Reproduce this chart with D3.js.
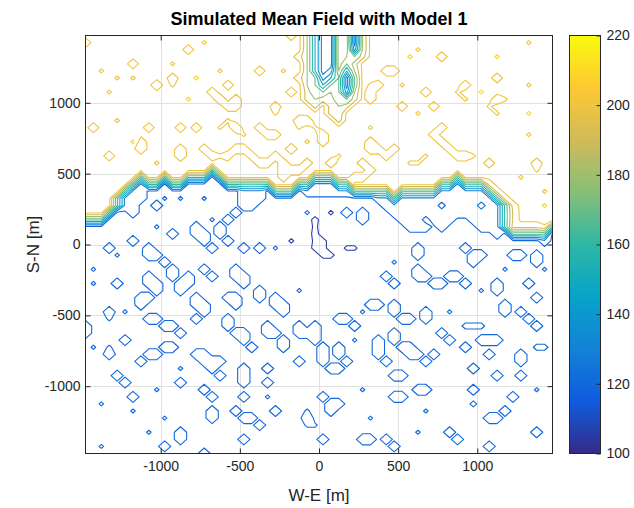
<!DOCTYPE html>
<html>
<head>
<meta charset="utf-8">
<script src="https://cdn.jsdelivr.net/npm/d3@7"></script>
<style>
  body { margin: 0; background: #fff; }
  text { font-family: "Liberation Sans", Arial, Helvetica, sans-serif; }
</style>
</head>
<body>
<script>
'use strict';

// axis ticks and contour levels
const xTicks = [-1000, -500, 0, 500, 1000];
const yTicks = [-1000, -500, 0, 500, 1000];
const colorTicks = [100, 120, 140, 160, 180, 200, 220];
const contourLevels = [105, 120, 130, 140, 150, 160, 170, 180, 190, 200, 210];

// parula colour stops, 100 .. 220
const parulaStops = ['#352a87', '#0f5cdd', '#1481d6', '#06a4ca', '#2eb7a4',
                     '#87bf77', '#d1bb59', '#fec832', '#f9fb0e'];

// the field is a 60 x 60 grid, 50 m spacing, centres -1475 .. 1475, row 0 = north
const nCols = 60;
const nRows = 60;

// field value for each cell code
const codeValue = {
  '.': 118, ',': 114, 'a': 120.8, 'A': 121.5, 'b': 127, 'B': 129, 'c': 133,
  'p': 99, 'P': 95,
  'm': 162,
  'o': 202.5, 'd': 194, 'D': 191, 'e': 199, 'y': 213,
  'L': 125, 'K': 135, 'h': 150, 'j': 170, 'g': 180, 'k': 185
};

// row of the steep transition band in each column
const bandRow = [26, 26, 26, 25, 23, 22, 21, 20, 21, 21,
                 20, 21, 21, 20, 20, 20, 19, 20, 21, 21,
                 21, 21, 21, 21, 22, 22, 22, 21, 21, 20,
                 20, 20, 21, 21, 22, 22, 22, 22, 22, 23,
                 22, 22, 22, 22, 22, 21, 21, 20, 21, 21,
                 21, 22, 23, 24, 28, 28, 28, 28, 28, 27];

// extra band cells where the band turns steeply
const bandExtra = [[24, 4, 'm'], [25, 53, 'm'], [26, 53, 'm'], [27, 53, 'm']];

// slightly raised ground hanging under the band: [column, last row]
const shelf = [[5, 24], [6, 25], [7, 23], [20, 23], [21, 24], [22, 23],
  [28, 22], [29, 22], [30, 22], [31, 22], [32, 22], [33, 22], [37, 23], [38, 24],
  [39, 25], [40, 26], [41, 27], [42, 27], [43, 27], [44, 26], [45, 27], [46, 26],
  [47, 25], [48, 25], [49, 26], [50, 27], [51, 27], [52, 28]];

// low channel coming in from the north edge, columns 28..35 ('*' = unchanged)
const channelRows = [
  'ghLLkkLg', 'ghLLkkLg', 'ghLLkkKg', 'ghLLkgjk', 'ghLLkjko', 'ghLKghgo',
  'gjKhjLjo', 'gjhjjLjo', 'kjjgjKgo', 'kgkkjjko', '*k*kgk**', '***kg***', '****k***'
];

// dips and peaks in the northern (high) part: [row, col, code]
const upperCells = [
  [1, 0, 'd'], [5, 2, 'e'], [6, 4, 'e'], [8, 3, 'e'], [4, 6, 'd'], [6, 6, 'e'], [7, 9, 'D'],
  [6, 11, 'd'], [7, 11, 'e'], [4, 11, 'e'], [2, 13, 'd'], [1, 15, 'e'], [9, 13, 'y'], [6, 14, 'y'],
  [8, 16, 'd'], [9, 17, 'D'], [10, 18, 'd'], [9, 19, 'd'], [10, 19, 'd'], [7, 18, 'd'], [5, 17, 'e'],
  [5, 22, 'd'], [5, 25, 'e'], [3, 27, 'd'], [6, 27, 'd'], [8, 26, 'd'], [0, 26, 'd'], [10, 24, 'd'],
  [11, 24, 'e'], [12, 27, 'D'], [12, 28, 'd'], [13, 27, 'e'], [13, 1, 'd'], [12, 4, 'e'], [13, 8, 'd'],
  [13, 12, 'd'], [13, 14, 'd'], [13, 17, 'e'], [12, 18, 'e'], [13, 19, 'D'], [14, 20, 'e'],
  [13, 22, 'd'], [14, 23, 'd'], [14, 24, 'd'], [16, 26, 'D'], [15, 28, 'e'], [15, 7, 'd'], [16, 7, 'D'],
  [17, 3, 'd'], [15, 6, 'y'], [16, 12, 'd'], [17, 12, 'D'], [16, 15, 'd'], [17, 16, 'd'], [17, 17, 'e'],
  [17, 18, 'd'], [16, 19, 'd'], [16, 20, 'd'], [17, 21, 'd'], [18, 9, 'e'], [17, 24, 'd'], [18, 22, 'd'],
  [18, 23, 'd'], [18, 25, 'd'], [19, 26, 'd'], [19, 27, 'd'], [18, 28, 'd'], [19, 25, 'd'], [20, 25, 'd'],
  [5, 38, 'd'], [5, 39, 'd'], [7, 37, 'd'], [7, 40, 'e'], [7, 36, 'e'], [8, 36, 'd'], [9, 36, 'd'],
  [2, 42, 'e'], [3, 45, 'd'], [8, 43, 'd'], [7, 48, 'd'], [6, 52, 'd'], [9, 52, 'd'], [9, 53, 'e'],
  [11, 52, 'e'], [1, 56, 'e'], [7, 56, 'e'], [14, 56, 'e'], [18, 57, 'd'], [19, 57, 'e'],
  [3, 52, 'y'], [8, 50, 'y'], [11, 56, 'y'], [3, 41, 'y'], [10, 40, 'd'], [11, 42, 'e'], [10, 44, 'd'],
  [9, 48, 'e'], [10, 51, 'e'], [13, 45, 'd'], [14, 44, 'd'], [15, 45, 'd'], [16, 46, 'd'], [17, 47, 'd'],
  [15, 36, 'd'], [16, 36, 'D'], [16, 37, 'd'], [17, 38, 'd'], [16, 39, 'd'], [18, 35, 'd'], [19, 36, 'd'],
  [18, 31, 'd'], [14, 30, 'd'], [15, 30, 'd'], [13, 36, 'e'], [13, 29, 'e'], [17, 43, 'e'], [17, 48, 'd'],
  [17, 49, 'e'], [18, 51, 'd'], [17, 32, 'e'], [20, 34, 'd'], [20, 35, 'd'], [18, 41, 'e'], [18, 42, 'e'],
  [8, 47, 'e'], [20, 55, 'e'], [22, 58, 'e'], [24, 58, 'y'],
  [21, 51, 'd'], [22, 52, 'd'], [23, 53, 'd'], [24, 54, 'd'], [25, 54, 'D'], [26, 54, 'D'], [27, 54, 'd'],
  [27, 55, 'd'], [27, 56, 'd'], [27, 57, 'd'], [27, 58, 'e']
];

// bumps in the southern (low) part: [row, col, code]
const lowerCells = [
  [23, 10, 'a'], [23, 12, 'a'], [23, 15, 'a'], [24, 9, 'b'], [26, 16, 'a'], [28, 11, 'b'], [29, 6, 'b'],
  [30, 3, 'b'], [31, 4, 'a'], [27, 9, 'a'], [33, 1, 'a'],
  [24, 20, 'b'], [25, 19, 'b'], [26, 18, 'b'], [27, 17, 'b'], [28, 17, 'b'], [29, 18, 'b'],
  [27, 14, 'b'], [28, 14, 'b'], [28, 15, 'b'], [29, 15, 'b'], [30, 16, 'b'],
  [30, 20, 'b'], [30, 22, 'b'], [30, 24, 'a'], [30, 8, 'b'], [31, 8, 'B'], [31, 9, 'b'], [32, 10, 'b'],
  [25, 33, 'b'], [25, 35, 'b'], [26, 35, 'b'], [30, 42, 'b'], [31, 42, 'b'], [30, 48, 'b'], [31, 49, 'b'],
  [32, 49, 'b'], [31, 50, 'b'], [31, 54, 'b'], [31, 55, 'b'], [31, 57, 'b'], [32, 57, 'b'], [29, 58, 'b'],
  [32, 39, 'a'], [25, 28, 'a'], [26, 43, ','], [24, 45, ','], [24, 50, 'c'],
  [35, 4, 'b'], [34, 8, 'b'], [35, 8, 'b'], [35, 9, 'b'], [36, 9, 'b'], [37, 8, 'b'], [37, 7, 'b'], [38, 7, 'b'],
  [33, 11, 'b'], [34, 11, 'b'], [35, 12, 'b'], [36, 12, 'b'], [35, 13, 'b'], [34, 13, 'b'],
  [37, 14, 'b'], [38, 14, 'b'], [38, 15, 'b'], [39, 15, 'b'], [40, 14, 'b'], [33, 15, 'b'], [34, 16, 'b'],
  [37, 18, 'b'], [37, 19, 'b'], [38, 19, 'b'], [33, 19, 'b'], [34, 19, 'b'], [34, 20, 'b'], [35, 20, 'b'],
  [36, 22, 'b'], [37, 22, 'b'], [37, 24, 'b'], [38, 24, 'b'], [38, 25, 'b'], [39, 25, 'b'], [36, 27, 'a'],
  [39, 3, 'b'], [40, 3, 'a'], [39, 5, 'a'], [40, 8, 'b'], [40, 9, 'b'], [41, 10, 'b'], [41, 11, 'b'], [42, 12, 'b'],
  [43, 5, 'b'], [44, 3, 'a'], [45, 3, 'b'], [46, 7, 'b'], [45, 8, 'b'], [45, 9, 'b'], [44, 10, 'b'], [44, 11, 'b'],
  [45, 14, 'b'], [45, 15, 'b'], [46, 15, 'b'], [46, 16, 'b'], [46, 17, 'b'], [47, 16, 'b'], [48, 17, 'b'],
  [47, 12, 'a'], [40, 18, 'b'], [41, 18, 'b'], [42, 19, 'b'], [42, 20, 'b'], [43, 20, 'b'], [44, 21, 'b'],
  [41, 23, 'b'], [42, 23, 'b'], [42, 24, 'b'], [43, 25, 'b'], [44, 25, 'b'], [41, 27, 'b'], [42, 27, 'b'],
  [42, 28, 'b'], [47, 20, 'b'], [48, 20, 'b'], [49, 20, 'b'], [49, 23, 'b'], [46, 27, 'b'], [47, 23, 'b'],
  [48, 4, 'b'], [49, 5, 'b'], [51, 6, 'b'], [50, 9, 'a'], [49, 12, 'b'], [50, 15, 'b'], [51, 16, 'b'],
  [51, 20, 'b'], [51, 23, 'a'], [53, 6, 'a'], [54, 10, 'a'], [53, 16, 'b'], [54, 16, 'b'], [53, 19, 'b'],
  [54, 20, 'b'], [54, 21, 'b'], [55, 22, 'b'], [53, 24, 'b'], [54, 28, 'b'], [55, 28, 'a'], [56, 12, 'b'],
  [57, 12, 'b'], [58, 10, 'b'], [59, 15, 'b'], [57, 20, 'b'], [52, 2, 'a'], [58, 2, 'a'], [56, 8, 'a'],
  [41, 0, 'b'], [42, 0, 'b'], [35, 1, 'a'], [44, 1, 'a'],
  [33, 42, 'b'], [34, 42, 'b'], [34, 43, 'b'], [35, 44, 'b'], [35, 45, 'b'], [34, 46, 'b'], [34, 47, 'b'],
  [35, 48, 'b'], [34, 38, 'b'], [35, 39, 'b'], [38, 36, 'b'], [38, 37, 'b'], [39, 35, 'a'],
  [38, 39, 'b'], [39, 39, 'b'], [40, 40, 'b'], [40, 41, 'b'], [39, 43, 'b'], [40, 43, 'b'],
  [40, 32, 'b'], [40, 33, 'b'], [41, 34, 'b'], [41, 29, 'b'], [42, 29, 'b'], [43, 29, 'b'], [44, 30, 'b'],
  [45, 30, 'b'], [46, 30, 'b'], [44, 32, 'b'], [45, 32, 'b'], [46, 33, 'b'], [47, 32, 'b'], [47, 31, 'b'],
  [43, 34, 'a'], [43, 37, 'b'], [44, 37, 'b'], [45, 37, 'b'], [46, 38, 'b'], [42, 39, 'b'], [43, 39, 'b'],
  [44, 40, 'b'], [44, 41, 'b'], [45, 41, 'b'], [45, 42, 'b'], [46, 43, 'b'], [45, 44, 'b'], [42, 45, 'b'],
  [43, 46, 'b'], [39, 46, 'a'], [41, 48, 'A'], [41, 49, 'A'], [41, 50, 'A'], [43, 50, 'b'], [43, 51, 'b'],
  [43, 52, 'b'], [45, 51, 'b'], [44, 48, 'b'], [38, 53, 'b'], [39, 53, 'b'], [39, 55, 'b'], [40, 56, 'b'],
  [41, 57, 'b'], [36, 50, 'a'], [35, 52, 'b'], [36, 52, 'b'], [35, 56, 'b'], [37, 57, 'b'], [44, 57, 'A'],
  [44, 58, 'A'], [45, 55, 'b'], [46, 55, 'b'], [47, 49, 'b'], [48, 52, 'b'], [48, 55, 'b'], [50, 57, 'a'],
  [48, 39, 'b'], [48, 40, 'b'], [50, 42, 'b'], [50, 43, 'b'], [51, 39, 'b'], [51, 40, 'b'], [51, 30, 'b'],
  [52, 31, 'b'], [52, 32, 'b'], [53, 31, 'b'], [50, 35, 'a'], [50, 49, 'b'], [52, 49, 'A'], [51, 54, 'b'],
  [54, 51, 'b'], [54, 52, 'b'], [53, 53, 'b'], [56, 57, 'b'], [56, 46, 'b'], [57, 47, 'b'], [57, 35, 'b'],
  [57, 36, 'b'], [57, 38, 'b'], [58, 39, 'b'], [57, 30, 'b'], [54, 36, 'a'], [53, 43, 'a'], [56, 42, 'a'],
  [58, 51, 'b'], [55, 29, 'a'], [53, 28, 'a'], [33, 53, 'a'], [33, 58, 'a']
];

// the deepest spot, south of the centre
const purpleCells = [
  [25, 31, 'p'], [26, 29, 'P'], [27, 29, 'p'], [28, 29, 'P'], [29, 29, 'p'], [29, 30, 'P'], [30, 29, 'P'],
  [30, 30, 'P'], [31, 30, 'P'], [31, 31, 'P'], [30, 33, 'p'], [30, 34, 'p'], [29, 26, 'p']
];

// build the grid
const values = new Array(nCols * nRows);
function setCell(r, c, code) { values[r * nCols + c] = codeValue[code]; }

for (let r = 0; r < nRows; r++) {
  for (let c = 0; c < nCols; c++) {
    let b = bandRow[c];
    setCell(r, c, r < b ? 'o' : (r === b ? 'm' : '.'));
  }
}
shelf.forEach(([c, last]) => {
  for (let r = bandRow[c] + 1; r <= last; r++) setCell(r, c, 'b');
});
bandExtra.forEach(([r, c, code]) => setCell(r, c, code));
channelRows.forEach((row, r) => {
  row.split('').forEach((code, i) => { if (code !== '*') setCell(r, 28 + i, code); });
});
[upperCells, lowerCells, purpleCells].forEach(list => {
  list.forEach(([r, c, code]) => setCell(r, c, code));
});

// ----- drawing -----
const width = 634, height = 508;
const plot = { left: 85.5, right: 552.5, top: 35.5, bottom: 453.5 };

const svg = d3.select('body').append('svg')
  .attr('width', width)
  .attr('height', height);

const x = d3.scaleLinear().domain([-1475, 1475]).range([plot.left, plot.right]);
const y = d3.scaleLinear().domain([-1475, 1475]).range([plot.bottom, plot.top]);

const parula = d3.scaleLinear()
  .domain(parulaStops.map((s, i) => 100 + i * 15))
  .range(parulaStops)
  .interpolate(d3.interpolateRgb)
  .clamp(true);

svg.append('clipPath').attr('id', 'plotClip')
  .append('rect')
  .attr('x', plot.left).attr('y', plot.top)
  .attr('width', plot.right - plot.left)
  .attr('height', plot.bottom - plot.top);

// grid lines
svg.append('g').selectAll('line').data(xTicks).join('line')
  .attr('x1', d => Math.round(x(d)) + 0.5).attr('x2', d => Math.round(x(d)) + 0.5)
  .attr('y1', plot.top).attr('y2', plot.bottom)
  .attr('stroke', '#e0e0e0');
svg.append('g').selectAll('line').data(yTicks).join('line')
  .attr('y1', d => Math.round(y(d)) + 0.5).attr('y2', d => Math.round(y(d)) + 0.5)
  .attr('x1', plot.left).attr('x2', plot.right)
  .attr('stroke', '#e0e0e0');

// contours: grid coordinate g maps to metres -1500 + 50 g
const toPx = d3.geoTransform({
  point: function (gx, gy) {
    this.stream.point(x(-1500 + 50 * gx), y(1500 - 50 * gy));
  }
});
const path = d3.geoPath(toPx);

const contours = d3.contours()
  .size([nCols, nRows])
  .thresholds(contourLevels)(values);

svg.append('g')
  .attr('clip-path', 'url(#plotClip)')
  .selectAll('path')
  .data(contours)
  .join('path')
  .attr('d', path)
  .attr('fill', 'none')
  .attr('stroke', d => parula(d.value))
  .attr('stroke-width', 1.1)
  .attr('stroke-linejoin', 'round');

// axes (ticks pointing inward, MATLAB style)
const plainNumber = d => String(d);

function styleAxis(g) {
  g.select('.domain').remove();
  g.selectAll('.tick line').attr('stroke', '#262626');
  g.selectAll('.tick text')
    .attr('fill', '#262626')
    .style('font-size', '14px')
    .style('font-family', '"Liberation Sans", Arial, sans-serif');
}

svg.append('g')
  .attr('transform', 'translate(0,' + plot.bottom + ')')
  .call(d3.axisBottom(x).tickValues(xTicks).tickFormat(plainNumber)
    .tickSizeInner(-5).tickSizeOuter(0).tickPadding(8))
  .call(styleAxis);
svg.append('g')
  .attr('transform', 'translate(0,' + plot.top + ')')
  .call(d3.axisTop(x).tickValues(xTicks).tickSizeInner(-5).tickSizeOuter(0).tickFormat(''))
  .call(styleAxis);
svg.append('g')
  .attr('transform', 'translate(' + plot.left + ',0)')
  .call(d3.axisLeft(y).tickValues(yTicks).tickFormat(plainNumber)
    .tickSizeInner(-5).tickSizeOuter(0).tickPadding(5))
  .call(styleAxis);
svg.append('g')
  .attr('transform', 'translate(' + plot.right + ',0)')
  .call(d3.axisRight(y).tickValues(yTicks).tickSizeInner(-5).tickSizeOuter(0).tickFormat(''))
  .call(styleAxis);

// box
svg.append('rect')
  .attr('x', plot.left).attr('y', plot.top)
  .attr('width', plot.right - plot.left)
  .attr('height', plot.bottom - plot.top)
  .attr('fill', 'none')
  .attr('stroke', '#262626')
  .attr('stroke-width', 1);

// colour bar
const cb = { left: 569.5, width: 31 };
const cScale = d3.scaleLinear().domain([100, 220]).range([plot.bottom, plot.top]);

const grad = svg.append('defs').append('linearGradient')
  .attr('id', 'parulaGrad')
  .attr('x1', 0).attr('y1', 1).attr('x2', 0).attr('y2', 0);
grad.selectAll('stop')
  .data(d3.range(0, 25))
  .join('stop')
  .attr('offset', d => d / 24)
  .attr('stop-color', d => parula(100 + d * 5));

svg.append('rect')
  .attr('x', cb.left).attr('y', plot.top)
  .attr('width', cb.width)
  .attr('height', plot.bottom - plot.top)
  .attr('fill', 'url(#parulaGrad)')
  .attr('stroke', '#262626')
  .attr('stroke-width', 1);

svg.append('g')
  .attr('transform', 'translate(' + (cb.left + cb.width) + ',0)')
  .call(d3.axisRight(cScale).tickValues(colorTicks).tickFormat(plainNumber)
    .tickSizeInner(-4).tickSizeOuter(0).tickPadding(6))
  .call(styleAxis);

// labels
svg.append('text')
  .attr('x', (plot.left + plot.right) / 2)
  .attr('y', 25)
  .attr('text-anchor', 'middle')
  .style('font-size', '18px')
  .style('font-weight', 'bold')
  .attr('fill', '#000')
  .text('Simulated Mean Field with Model 1');

svg.append('text')
  .attr('x', (plot.left + plot.right) / 2)
  .attr('y', 501)
  .attr('text-anchor', 'middle')
  .style('font-size', '17px')
  .attr('fill', '#262626')
  .text('W-E [m]');

svg.append('text')
  .attr('transform', 'translate(39,' + ((plot.top + plot.bottom) / 2) + ')rotate(-90)')
  .attr('text-anchor', 'middle')
  .style('font-size', '17px')
  .attr('fill', '#262626')
  .text('S-N [m]');
</script>
</body>
</html>
